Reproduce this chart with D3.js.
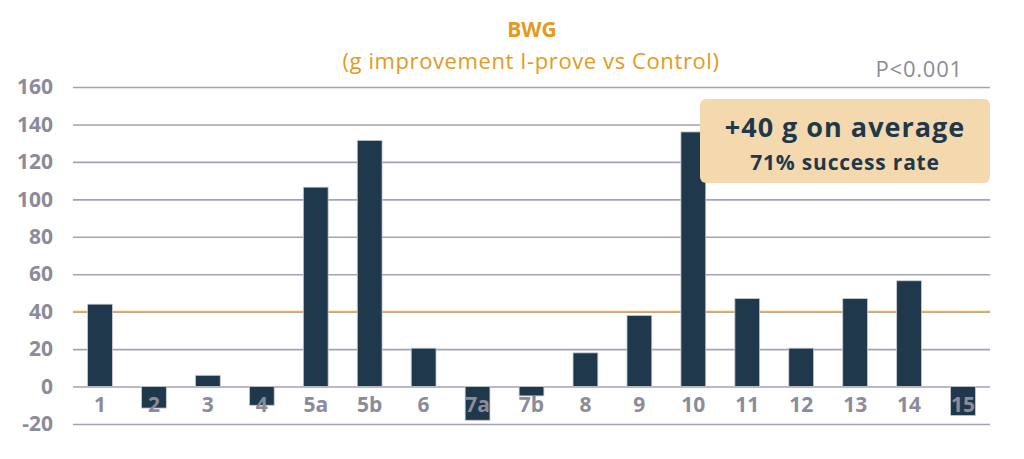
<!DOCTYPE html>
<html>
<head>
<meta charset="utf-8">
<script src="https://cdn.jsdelivr.net/npm/d3@7"></script>
<style>
  body { margin: 0; background: #fff; }
  svg text { font-family: 'Open Sans', 'Noto Sans', sans-serif; }
</style>
</head>
<body>
<div id="chart"></div>
<script>
const categories = ['1', '2', '3', '4', '5a', '5b', '6', '7a', '7b', '8', '9', '10', '11', '12', '13', '14', '15'];
const values = [44, -11.5, 6, -10, 106.5, 131.5, 20.5, -18, -5, 18, 38, 136, 47, 20.5, 47, 56.5, -15.5];
const yTicks = [-20, 0, 20, 40, 60, 80, 100, 120, 140, 160];
const average = 40;

const width = 1024;
const height = 459;
const margin = { top: 87, right: 34, bottom: 35, left: 73 };

const svg = d3.select('#chart')
  .append('svg')
  .attr('width', width)
  .attr('height', height);

const x = d3.scaleBand()
  .domain(categories)
  .range([margin.left, width - margin.right])
  .paddingInner(0.54)
  .paddingOuter(0.27);

const y = d3.scaleLinear()
  .domain([-20, 160])
  .range([height - margin.bottom, margin.top]);

// gridlines + y labels
const yAxis = svg.append('g')
  .attr('transform', `translate(${margin.left},0)`)
  .call(d3.axisLeft(y)
    .tickValues(yTicks)
    .tickFormat((d) => String(d))
    .tickSize(-(width - margin.left - margin.right))
    .tickPadding(20));
yAxis.select('.domain').remove();
yAxis.selectAll('.tick line')
  .attr('stroke', '#a3a3b3')
  .attr('stroke-width', 1.6);
yAxis.selectAll('.tick text')
  .attr('fill', '#8b8b99')
  .attr('font-size', 21)
  .attr('font-weight', 'bold');

// average line
svg.append('line')
  .attr('x1', margin.left)
  .attr('x2', width - margin.right)
  .attr('y1', y(average))
  .attr('y2', y(average))
  .attr('stroke', '#ecb04a')
  .attr('stroke-width', 1.8);

// bars
svg.append('g')
  .selectAll('rect')
  .data(values)
  .enter()
  .append('rect')
  .attr('x', (d, i) => x(categories[i]))
  .attr('width', x.bandwidth())
  .attr('y', (d) => y(Math.max(0, d)))
  .attr('height', (d) => Math.abs(y(d) - y(0)))
  .attr('fill', '#1f384b')
  .attr('stroke', '#c8cbd2')
  .attr('stroke-width', 0.8);

// x labels (drawn over bars)
svg.append('g')
  .selectAll('text')
  .data(categories)
  .enter()
  .append('text')
  .attr('x', (d) => x(d) + x.bandwidth() / 2)
  .attr('y', y(0) + 25)
  .attr('text-anchor', 'middle')
  .attr('fill', '#8b8b99')
  .attr('font-size', 21)
  .attr('font-weight', 'bold')
  .text((d) => d);

// titles
svg.append('text')
  .attr('x', 532)
  .attr('y', 37)
  .attr('text-anchor', 'middle')
  .attr('fill', '#e39a22')
  .attr('font-size', 21)
  .attr('font-weight', 'bold')
  .text('BWG');
svg.append('text')
  .attr('x', 531)
  .attr('y', 69)
  .attr('text-anchor', 'middle')
  .attr('fill', '#e39a22')
  .attr('font-size', 22)
  .attr('letter-spacing', 0.6)
  .text('(g improvement I-prove vs Control)');

svg.append('text')
  .attr('x', 963)
  .attr('y', 77)
  .attr('text-anchor', 'end')
  .attr('fill', '#8b8b99')
  .attr('font-size', 22)
  .attr('letter-spacing', 0.8)
  .text('P<0.001');

// summary box
const box = svg.append('g');
box.append('rect')
  .attr('x', 700)
  .attr('y', 99)
  .attr('width', 290)
  .attr('height', 84)
  .attr('rx', 6)
  .attr('fill', '#f5d9ae');
box.append('text')
  .attr('x', 845)
  .attr('y', 137)
  .attr('text-anchor', 'middle')
  .attr('fill', '#1f384b')
  .attr('font-size', 27)
  .attr('font-weight', 'bold')
  .attr('letter-spacing', 1)
  .text('+40 g on average');
box.append('text')
  .attr('x', 845)
  .attr('y', 170)
  .attr('text-anchor', 'middle')
  .attr('fill', '#1f384b')
  .attr('font-size', 21)
  .attr('font-weight', 'bold')
  .attr('letter-spacing', 0.8)
  .text('71% success rate');
</script>
</body>
</html>
